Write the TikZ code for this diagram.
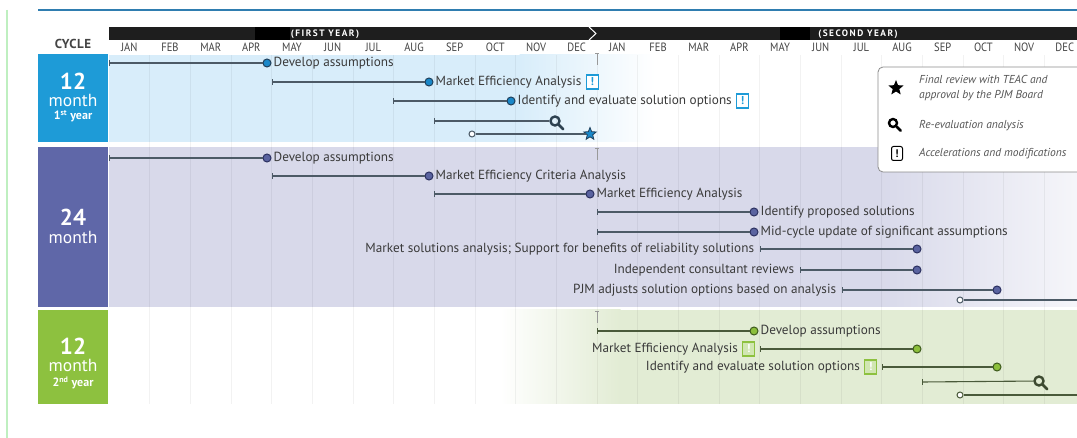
\documentclass[tikz,border=0pt]{standalone}
\usepackage{fontspec}
\usepackage{graphicx}
\setmainfont{PT Sans}
\usetikzlibrary{shapes.geometric,positioning}
\definecolor{cA}{HTML}{1E9BD7}
\definecolor{cB}{HTML}{5F67A8}
\definecolor{cC}{HTML}{8DC13F}
\definecolor{bgA}{HTML}{D8EDFA}
\definecolor{bgB}{HTML}{D8D9EA}
\definecolor{bgC}{HTML}{E2ECD4}
\definecolor{dotA}{HTML}{1A88C9}
\definecolor{dotAd}{HTML}{1F3F5A}
\definecolor{dotB}{HTML}{5A63A0}
\definecolor{dotBd}{HTML}{2B3060}
\definecolor{dotC}{HTML}{8CBF3C}
\definecolor{dotCd}{HTML}{3D5A1C}
\definecolor{lineA}{HTML}{4C5A66}
\definecolor{lineC}{HTML}{4A5A3A}
\definecolor{lbltxt}{HTML}{3A3A3A}
\definecolor{montxt}{HTML}{444444}
\definecolor{bar}{HTML}{1E1E1E}
\definecolor{topline}{HTML}{2F7DB0}
\definecolor{leftline}{HTML}{BFEFC0}
\definecolor{legtxt}{HTML}{555555}
\definecolor{magA}{HTML}{2D4150}
\definecolor{magC}{HTML}{3D4A30}
\begin{document}
\begin{tikzpicture}[x=1pt,y=-1pt,
  lbl/.style={font=\fontsize{13.2}{15}\selectfont, text=lbltxt, inner sep=0pt, anchor=west, text height=9.5pt, text depth=3pt},
  tk/.style={rectangle, fill=#1, minimum width=1pt, minimum height=6pt, inner sep=0pt},
  tk/.default=lineA,
  tl/.style={draw=#1, line width=1.1pt},
  tl/.default=lineA,
  dA/.style={circle, fill=dotA, draw=dotAd, line width=1pt, minimum size=8pt, inner sep=0pt},
  dB/.style={circle, fill=dotB, draw=dotBd, line width=1pt, minimum size=8pt, inner sep=0pt},
  dC/.style={circle, fill=dotC, draw=dotCd, line width=1pt, minimum size=8pt, inner sep=0pt},
  oc/.style={circle, fill=white, draw=#1, line width=1pt, minimum size=6pt, inner sep=0pt},
  oc/.default=lineA,
  exA/.style={rectangle, draw=cA, fill=white, text=cA, line width=1.1pt, minimum width=12pt, minimum height=14pt, inner sep=0pt, font=\bfseries\fontsize{11.5}{11}\selectfont},
  exC/.style={rectangle, draw=cC, fill=cC!40, text=white, line width=1.1pt, minimum width=12pt, minimum height=14pt, inner sep=0pt, font=\bfseries\fontsize{11.5}{11}\selectfont},
  mag/.style={circle, draw=#1, line width=2.4pt, minimum size=9pt, inner sep=0pt},
  magh/.style={draw=#1, line width=2.8pt, line cap=round},
  yrmark/.style={draw=black!40, line width=1pt},
  grid/.style={draw=black, opacity=0.05, line width=1pt},
  cyc/.style={rectangle, inner sep=0pt, minimum width=70pt},
  cyctxt/.style={text=white, inner sep=0pt},
  mon/.style={font=\fontsize{12}{12}\selectfont, text=montxt, inner sep=0pt},
  yr/.style={font=\bfseries\fontsize{9.3}{9}\selectfont\addfontfeature{LetterSpace=16}, text=white, inner sep=0pt},
  legt/.style={font=\itshape\fontsize{11.5}{15}\selectfont, text=legtxt, inner sep=0pt, anchor=west, align=left}
]
\useasboundingbox (0,0) rectangle (1077,438);
\clip (0,0) rectangle (1077,438);
\fill[white] (0,0) rectangle (1077,438);
% frame lines
\draw[leftline, line width=1.5pt] (7,10) -- (7,438);
\draw[topline, line width=1.3pt] (38,10) -- (1077,10);
% header bar
\fill[bar] (109,27) rectangle (1077,40);
\fill[black] (255,27) rectangle (290,40);
\fill[black] (780,27) rectangle (810,40);
\draw[white, line width=1pt] (589,27) -- (596,33.5) -- (589,40);
\node[yr] (y1) at (325,33.8) {(FIRST YEAR)};
\node[yr] (y2) at (858,33.8) {(SECOND YEAR)};
\node[font=\bfseries\fontsize{13}{12}\selectfont\addfontfeature{LetterSpace=4}, text=montxt, inner sep=0pt] (cyclbl) at (73,44) {CYCLE};
\foreach \m [count=\i from 0] in {JAN,FEB,MAR,APR,MAY,JUN,JUL,AUG,SEP,OCT,NOV,DEC,JAN,FEB,MAR,APR,MAY,JUN,JUL,AUG,SEP,OCT,NOV,DEC}
  \node[mon] (mon\i) at ({109+40.67*(\i+0.5)},47) {\scalebox{0.88}[1]{\m}};
% row backgrounds
\fill[bgA] (109,55) rectangle (520,142);
\shade[left color=bgA, right color=white] (519.5,55) rectangle (655,142);
\fill[bgB] (109,147) rectangle (880,307);
\shade[left color=bgB, right color=bgB!25!white] (879.5,147) rectangle (1077,307);
\shade[left color=white, right color=bgC] (500,310) rectangle (620.5,404);
\fill[bgC] (620,310) rectangle (1077,404);
% grid
\foreach \k in {1,...,23}
  \draw[grid] ({109+40.67*\k},55) -- ({109+40.67*\k},404);
% cycle boxes
\node[cyc, fill=cA, minimum height=88pt] (cy1) at (73,98.5) {};
\node[cyc, fill=cB, minimum height=160pt] (cy2) at (73,227) {};
\node[cyc, fill=cC, minimum height=94pt] (cy3) at (73,357) {};
\node[cyctxt, font=\bfseries\fontsize{23}{23}\selectfont] (n1) at (73,81) {12};
\node[cyctxt, font=\fontsize{17.5}{17}\selectfont] (m1) at (73,100) {month};
\node[cyctxt, font=\bfseries\fontsize{12}{12}\selectfont] (yy1) at (73,116.5) {1\textsuperscript{st} year};
\node[cyctxt, font=\bfseries\fontsize{23}{23}\selectfont] (n2) at (73,217.5) {24};
\node[cyctxt, font=\fontsize{17.5}{17}\selectfont] (m2) at (73,237) {month};
\node[cyctxt, font=\bfseries\fontsize{23}{23}\selectfont] (n3) at (73,346) {12};
\node[cyctxt, font=\fontsize{17.5}{17}\selectfont] (m3) at (73,365) {month};
\node[cyctxt, font=\bfseries\fontsize{12}{12}\selectfont] (yy3) at (73,383) {2\textsuperscript{nd} year};
% year boundary marks
\foreach \yy in {54,149,312}{
  \draw[yrmark] (597,\yy) -- (597,\yy+11);
  \draw[yrmark] (595,\yy) -- (599,\yy);
}
% ---------- row 1
\node[tk] (a1s) at (109,63) {};
\node[dA] (a1e) at (267,63) {};
\draw[tl] (a1s) -- (a1e);
\node[lbl, right=2pt of a1e] (a1l) {Develop assumptions};
\node[tk] (a2s) at (272,82) {};
\node[dA] (a2e) at (429,82) {};
\draw[tl] (a2s) -- (a2e);
\node[lbl, right=2pt of a2e] (a2l) {Market Efficiency Analysis};
\node[exA, right=4pt of a2l] (a2x) {!};
\node[tk] (a3s) at (393,101) {};
\node[dA] (a3e) at (511,101) {};
\draw[tl] (a3s) -- (a3e);
\node[lbl, right=2pt of a3e] (a3l) {Identify and evaluate solution options};
\node[exA, right=4pt of a3l] (a3x) {!};
\node[tk] (a4s) at (434,121) {};
\node[mag=magA] (a4e) at (555,121) {};
\draw[tl] (a4s) -- (a4e);
\draw[magh=magA] (a4e.south east) -- ++(4,4);
\node[oc] (a5s) at (472,134) {};
\node[star, star points=5, star point ratio=2.3, minimum size=13pt, inner sep=0pt, fill=dotA, draw=dotAd, line width=0.8pt] (a5e) at (590,134) {};
\draw[tl] (a5s) -- (a5e);
% ---------- row 2
\node[tk] (b1s) at (109,158) {};
\node[dB] (b1e) at (267,158) {};
\draw[tl] (b1s) -- (b1e);
\node[lbl, right=2pt of b1e] (b1l) {Develop assumptions};
\node[tk] (b2s) at (272,176) {};
\node[dB] (b2e) at (429,176) {};
\draw[tl] (b2s) -- (b2e);
\node[lbl, right=2pt of b2e] (b2l) {Market Efficiency Criteria Analysis};
\node[tk] (b3s) at (434,194) {};
\node[dB] (b3e) at (590,194) {};
\draw[tl] (b3s) -- (b3e);
\node[lbl, right=2pt of b3e] (b3l) {Market Efficiency Analysis};
\node[tk] (b4s) at (597,212) {};
\node[dB] (b4e) at (754,212) {};
\draw[tl] (b4s) -- (b4e);
\node[lbl, right=2pt of b4e] (b4l) {Identify proposed solutions};
\node[tk] (b5s) at (597,232) {};
\node[dB] (b5e) at (754,232) {};
\draw[tl] (b5s) -- (b5e);
\node[lbl, right=2pt of b5e] (b5l) {Mid-cycle update of significant assumptions};
\node[tk] (b6s) at (760,249) {};
\node[dB] (b6e) at (917,249) {};
\draw[tl] (b6s) -- (b6e);
\node[lbl, anchor=east, left=5pt of b6s] (b6l) {Market solutions analysis; Support for benefits of reliability solutions};
\node[tk] (b7s) at (800,270) {};
\node[dB] (b7e) at (917,270) {};
\draw[tl] (b7s) -- (b7e);
\node[lbl, anchor=east, left=5pt of b7s] (b7l) {Independent consultant reviews};
\node[tk] (b8s) at (842,290) {};
\node[dB] (b8e) at (997,290) {};
\draw[tl] (b8s) -- (b8e);
\node[lbl, anchor=east, left=5pt of b8s] (b8l) {PJM adjusts solution options based on analysis};
\node[oc] (b9s) at (960,300) {};
\node[dB] (b9e) at (1082,300) {};
\draw[tl] (b9s) -- (b9e);
% ---------- row 3
\node[tk=lineC] (c1s) at (597,331) {};
\node[dC] (c1e) at (754,331) {};
\draw[tl=lineC] (c1s) -- (c1e);
\node[lbl, right=2pt of c1e] (c1l) {Develop assumptions};
\node[tk=lineC] (c2s) at (760,349) {};
\node[dC] (c2e) at (917,349) {};
\draw[tl=lineC] (c2s) -- (c2e);
\node[exC, left=4pt of c2s] (c2x) {!};
\node[lbl, anchor=east, left=4pt of c2x] (c2l) {Market Efficiency Analysis};
\node[tk=lineC] (c3s) at (882,367) {};
\node[dC] (c3e) at (997,367) {};
\draw[tl=lineC] (c3s) -- (c3e);
\node[exC, left=4pt of c3s] (c3x) {!};
\node[lbl, anchor=east, left=4pt of c3x] (c3l) {Identify and evaluate solution options};
\node[tk=lineC] (c4s) at (922,382) {};
\node[mag=magC] (c4e) at (1039,381) {};
\draw[tl=lineC] (c4s) -- (c4e);
\draw[magh=magC] (c4e.south east) -- ++(4,4);
\node[oc=lineC] (c5s) at (960,395) {};
\node[dC] (c5e) at (1082,395) {};
\draw[tl=lineC] (c5s) -- (c5e);
% ---------- legend
\draw[black!45, fill=white, rounded corners=5pt, line width=0.8pt] (878,67) rectangle (1095,172);
\node[star, star points=5, star point ratio=2.3, minimum size=16pt, inner sep=0pt, fill=black] (lg1) at (896,88) {};
\node[legt] (lg1t) at (919,88.5) {Final review with TEAC and\\approval by the PJM Board};
\node[mag=black, minimum size=8pt] (lg2) at (893,123) {};
\draw[magh=black] (lg2.south east) -- ++(4,4);
\node[legt] (lg2t) at (919,126) {Re-evaluation analysis};
\node[rectangle, rounded corners=2pt, draw=black, line width=1pt, minimum width=11pt, minimum height=14pt, inner sep=0pt, font=\bfseries\fontsize{11}{11}\selectfont] (lg3) at (897,153.5) {!};
\node[legt] (lg3t) at (919,154) {Accelerations and modifications};
\end{tikzpicture}
\end{document}
